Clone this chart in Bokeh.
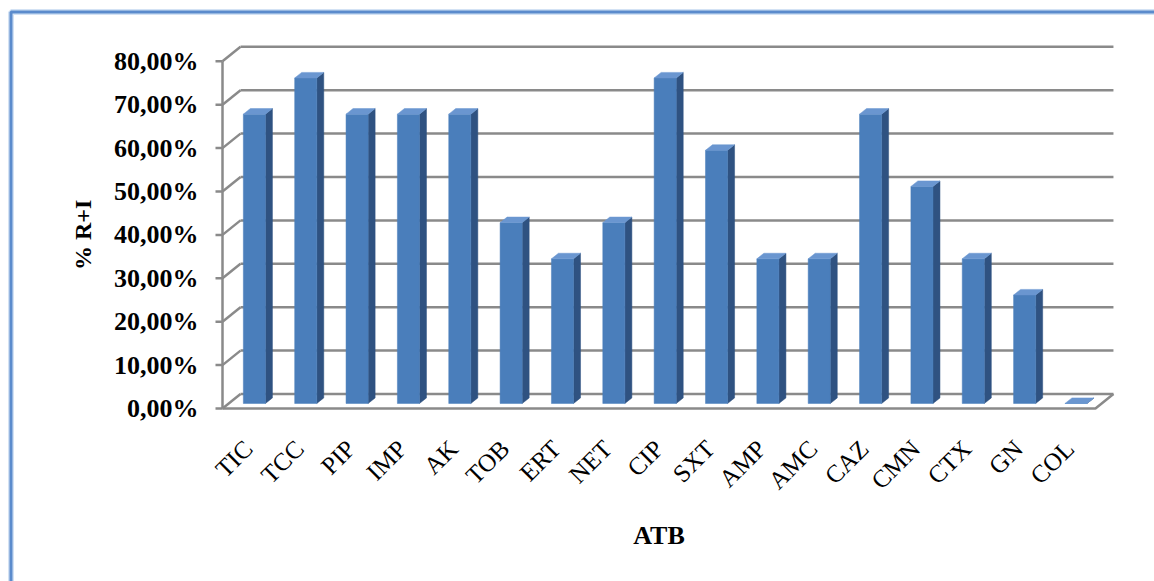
import math

from bokeh.core.properties import value
from bokeh.embed import file_html
from bokeh.models import Range1d
from bokeh.plotting import figure
from bokeh.resources import INLINE

# ---- data -------------------------------------------------------------
categories = ["TIC", "TCC", "PIP", "IMP", "AK", "TOB", "ERT", "NET", "CIP",
              "SXT", "AMP", "AMC", "CAZ", "CMN", "CTX", "GN", "COL"]
resist_pct = [66.67, 75.00, 66.67, 66.67, 66.67, 41.67, 33.33, 41.67, 75.00,
              58.33, 33.33, 33.33, 66.67, 50.00, 33.33, 25.00, 0.00]
y_ticks = [0, 10, 20, 30, 40, 50, 60, 70, 80]
y_tick_labels = ["0,00%", "10,00%", "20,00%", "30,00%", "40,00%",
                 "50,00%", "60,00%", "70,00%", "80,00%"]

# ---- layout / pseudo-3D geometry ---------------------------------------
W, H = 1154, 581
AXIS_PX = 222                # pixel column of the front value axis
FLOOR_PX = 408               # pixel row of the front 0 % edge
PX_PER_SLOT = 51.35          # horizontal pixels per category slot
PX_PER_PCT = 4.34            # vertical pixels per percentage point


def px_x(px):
    """Canvas pixel column -> data x."""
    return -0.5 + (px - AXIS_PX) / PX_PER_SLOT


def px_y(px):
    """Canvas pixel row -> data y."""
    return (FLOOR_PX - px) / PX_PER_PCT


DEPTH_X = 18 / PX_PER_SLOT   # walls recede up and to the right
DEPTH_Y = 14.5 / PX_PER_PCT
BAR_POS = 0.345              # bars stand a third of the way into the floor
BAR_W = 0.43
BAR_DX = 7 / PX_PER_SLOT
BAR_DY = 5.6 / PX_PER_PCT

GRID = "#8a8a8a"
FRONT, SIDE, TOP = "#4a7ebb", "#2f5281", "#6a96d0"
SERIF = value("Liberation Serif")

n = len(categories)
x_left = -0.5
x_right = x_left + n

p = figure(width=W, height=H, output_backend="svg", toolbar_location=None,
           x_range=Range1d(px_x(0), px_x(W)), y_range=Range1d(px_y(H), px_y(0)),
           x_axis_location=None, y_axis_location=None, min_border=0)
p.grid.visible = False
p.outline_line_color = None
p.background_fill_color = "white"
p.border_fill_color = "white"

# ---- outer chart border -------------------------------------------------
bl, bt = px_x(10.5), px_y(11.5)
for w, c in ((6, "#d3e2f4"), (3, "#5b8bcc")):
    p.line(x=[bl, bl, px_x(W + 10)], y=[px_y(H + 10), bt, bt],
           line_color=c, line_width=w)

# ---- walls and floor ---------------------------------------------------
bx0 = x_left + DEPTH_X
bx1 = x_right + DEPTH_X
back_y = [v + DEPTH_Y for v in y_ticks]
p.segment(x0=[x_left] * len(y_ticks), y0=y_ticks,
          x1=[bx0] * len(y_ticks), y1=back_y,
          line_color=GRID, line_width=2.5)
p.segment(x0=[bx0] * len(y_ticks), y0=back_y,
          x1=[bx1] * len(y_ticks), y1=back_y,
          line_color=GRID, line_width=2.5)
p.line(x=[x_left, x_right, bx1], y=[0, 0, DEPTH_Y],
       line_color=GRID, line_width=2.5)

# ---- value axis (front edge) -------------------------------------------
tick_len = 7 / PX_PER_SLOT
p.line(x=[x_left, x_left], y=[y_ticks[0], y_ticks[-1]],
       line_color=GRID, line_width=2.5)
p.segment(x0=[x_left - tick_len] * len(y_ticks), y0=y_ticks,
          x1=[x_left] * len(y_ticks), y1=y_ticks,
          line_color=GRID, line_width=2.5)
p.text(x=[x_left - 24 / PX_PER_SLOT] * len(y_ticks), y=y_ticks, text=y_tick_labels,
       text_align="right", text_baseline="middle",
       text_font=SERIF, text_font_size="26px", text_font_style="bold",
       text_color="black")
p.text(x=[px_x(82)], y=[(y_ticks[0] + y_ticks[-1]) / 2], text=["% R+I"],
       angle=math.pi / 2, text_align="center", text_baseline="middle",
       text_font=SERIF, text_font_size="24px", text_font_style="bold",
       text_color="black")

# ---- bars ---------------------------------------------------------------
base = BAR_POS * DEPTH_Y
centers = [i + BAR_POS * DEPTH_X for i in range(n)]
left = [c - BAR_W / 2 for c in centers]
right = [c + BAR_W / 2 for c in centers]

side_xs = [[r, r + BAR_DX, r + BAR_DX, r] for r in right]
side_ys = [[base, base + BAR_DY, base + BAR_DY + v, base + v] for v in resist_pct]
top_xs = [[l, r, r + BAR_DX, l + BAR_DX] for l, r in zip(left, right)]
top_ys = [[base + v, base + v, base + v + BAR_DY, base + v + BAR_DY] for v in resist_pct]

p.patches(xs=side_xs, ys=side_ys, fill_color=SIDE, line_color=SIDE, line_width=0.5)
p.quad(left=left, right=right, bottom=[base] * n, top=[base + v for v in resist_pct],
       fill_color=FRONT, line_color=FRONT, line_width=0.5)
p.patches(xs=top_xs, ys=top_ys, fill_color=TOP, line_color=TOP, line_width=0.5)

# ---- category labels and x title ---------------------------------------
p.text(x=list(range(n)), y=[px_y(444)] * n, text=categories, angle=math.pi / 4,
       text_align="right", text_baseline="middle",
       text_font=SERIF, text_font_size="25px", text_color="black")
p.text(x=[(x_left + x_right) / 2], y=[px_y(535)], text=["ATB"],
       text_align="center", text_baseline="middle",
       text_font=SERIF, text_font_size="26px",
       text_font_style="bold", text_color="black")

open("out.html", "w").write(file_html(p, INLINE))
